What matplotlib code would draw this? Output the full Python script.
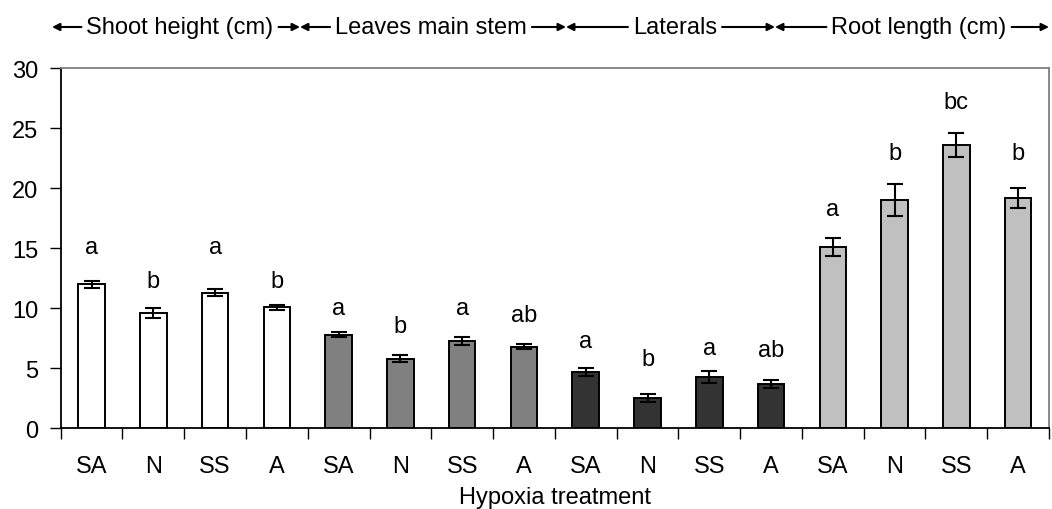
import numpy as np
import matplotlib
matplotlib.use('Agg')
import matplotlib.pyplot as plt

plt.rcParams['font.family'] = ['Liberation Sans', 'DejaVu Sans']

treatments = ['SA', 'N', 'SS', 'A']
groups = ['Shoot height (cm)', 'Leaves main stem', 'Laterals', 'Root length (cm)']
group_colors = ['#ffffff', '#808080', '#333333', '#c0c0c0']

shoot = [12.0, 9.6, 11.3, 10.1]
shoot_err = [0.3, 0.4, 0.28, 0.2]
leaves = [7.8, 5.8, 7.3, 6.8]
leaves_err = [0.2, 0.28, 0.33, 0.2]
laterals = [4.7, 2.5, 4.3, 3.7]
laterals_err = [0.3, 0.33, 0.5, 0.3]
root = [15.1, 19.0, 23.6, 19.2]
root_err = [0.75, 1.33, 1.0, 0.86]

letters = ['a', 'b', 'a', 'b',
           'a', 'b', 'a', 'ab',
           'a', 'b', 'a', 'ab',
           'a', 'b', 'bc', 'b']
letter_y = [15.1, 12.3, 15.1, 12.3,
            10.0, 8.5, 10.0, 9.4,
            7.3, 5.8, 6.7, 6.5,
            18.3, 22.9, 27.2, 22.9]

values = shoot + leaves + laterals + root
errors = shoot_err + leaves_err + laterals_err + root_err
colors = [c for c in group_colors for _ in treatments]
labels = treatments * len(groups)

W, H = 1052, 510
fig = plt.figure(figsize=(W / 100, H / 100), dpi=100)
ax = fig.add_axes([60.7 / W, 1 - 429.3 / H, (1049 - 60.7) / W, 360 / H])

x = np.arange(len(values))
ax.bar(x, values, width=0.43, color=colors, edgecolor='black', linewidth=1.4, zorder=2)
ax.errorbar(x, values, yerr=errors, fmt='none', ecolor='black', elinewidth=1.5,
            capsize=5.5, capthick=1.5, zorder=3)

fs = 17
for xi, t, yy in zip(x, letters, letter_y):
    ax.text(xi, yy, t, ha='center', va='center', fontsize=fs)

ax.set_xlim(-0.5, len(values) - 0.5)
ax.set_ylim(0, 30)
ax.set_yticks(np.arange(0, 31, 5))
ax.set_xticks(x)
ax.set_xticklabels(labels)
ax.set_xticks(np.arange(-0.5, len(values), 1.0), minor=True)
ax.tick_params(axis='x', which='major', length=0, pad=19, labelsize=fs)
ax.tick_params(axis='x', which='minor', length=8, width=1, direction='out')
ax.tick_params(axis='y', length=8, width=1, direction='out', labelsize=fs, pad=8)
ax.set_xlabel('Hypoxia treatment', fontsize=fs, labelpad=7)

for s in ['left', 'bottom']:
    ax.spines[s].set_color('black')
    ax.spines[s].set_linewidth(1.3)
for s in ['top', 'right']:
    ax.spines[s].set_color('#808080')
    ax.spines[s].set_linewidth(1.3)

# header with arrows (pixel coords)
bounds = [52, 300, 566, 775, 1049]
centers = [180, 431, 675, 919]
head_y = H - 28
renderer = fig.canvas.get_renderer()
aprops = dict(arrowstyle='-|>', color='black', lw=1.5, mutation_scale=11,
              shrinkA=0, shrinkB=0)
for i, g in enumerate(groups):
    t = fig.text(centers[i] / W, head_y / H, g, ha='center', va='center', fontsize=fs)
    bb = t.get_window_extent(renderer)
    fig.add_artist(matplotlib.patches.FancyArrowPatch(
        ((bb.x0 - 5) / W, head_y / H), (bounds[i] / W, head_y / H),
        transform=fig.transFigure, **aprops))
    fig.add_artist(matplotlib.patches.FancyArrowPatch(
        ((bb.x1 + 5) / W, head_y / H), (bounds[i + 1] / W, head_y / H),
        transform=fig.transFigure, **aprops))

fig.savefig('out.png', dpi=100)
